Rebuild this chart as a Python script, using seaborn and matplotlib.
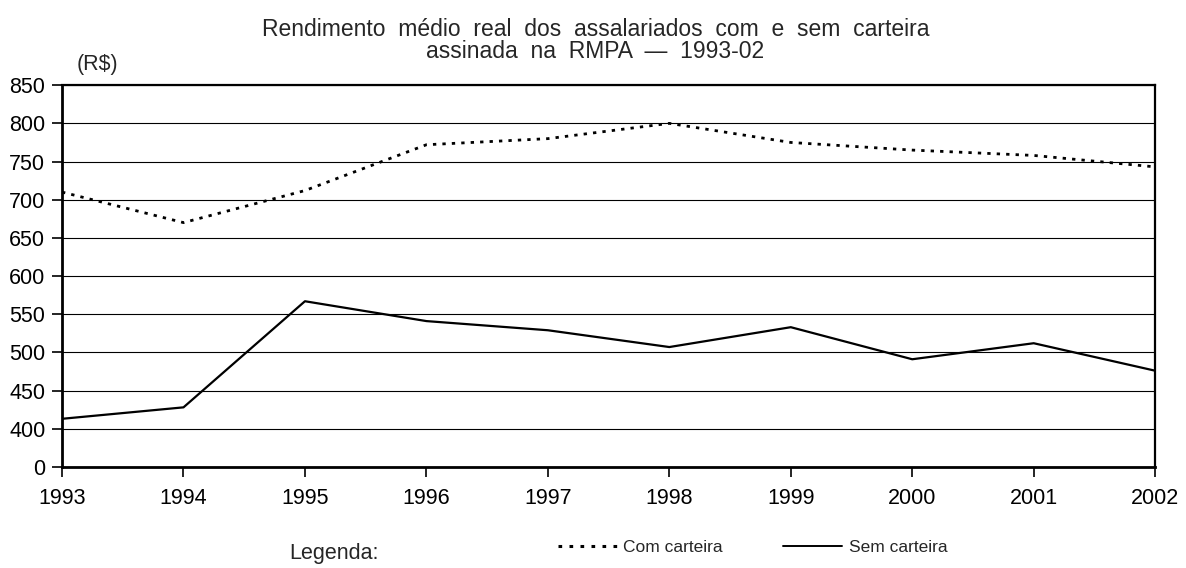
import pandas as pd
import matplotlib.pyplot as plt
import seaborn as sns
from matplotlib.lines import Line2D

years = [1993, 1994, 1995, 1996, 1997, 1998, 1999, 2000, 2001, 2002]
com_carteira = [710, 670, 712, 772, 780, 800, 775, 765, 758, 743]
sem_carteira = [413, 428, 567, 541, 529, 507, 533, 491, 512, 476]

y_ticks = [350, 400, 450, 500, 550, 600, 650, 700, 750, 800, 850]
y_labels = ['0', '400', '450', '500', '550', '600', '650', '700', '750', '800', '850']

sns.set_style('white')
plt.rcParams['font.family'] = ['Liberation Sans', 'DejaVu Sans']

df = pd.DataFrame({'Ano': years, 'Com carteira': com_carteira, 'Sem carteira': sem_carteira})

fig = plt.figure(figsize=(11.86, 5.68), dpi=100)
ax = fig.add_axes([0.0523, 0.178, 0.9217, 0.672])

sns.lineplot(data=df, x='Ano', y='Com carteira', ax=ax, color='black',
             linewidth=2, linestyle=(0, (1.2, 2.2)))
sns.lineplot(data=df, x='Ano', y='Sem carteira', ax=ax, color='black', linewidth=1.6)

ax.set_xlim(1993, 2002)
ax.set_ylim(350, 850)
ax.set_xticks(years)
ax.set_xticklabels([str(y) for y in years])
ax.set_yticks(y_ticks)
ax.set_yticklabels(y_labels)
ax.set_xlabel('')
ax.set_ylabel('')
ax.grid(axis='y', color='black', linewidth=0.8)
ax.tick_params(axis='both', labelsize=15.5, length=7, width=1.2, direction='out',
               bottom=True, left=True, colors='black')
ax.tick_params(axis='x', pad=8)
ax.tick_params(axis='y', pad=5)
for side in ['left', 'bottom']:
    ax.spines[side].set_linewidth(2)
    ax.spines[side].set_color('black')
for side in ['top', 'right']:
    ax.spines[side].set_linewidth(1.6)
    ax.spines[side].set_color('black')

fig.text(0.502, 0.928,
         'Rendimento  médio  real  dos  assalariados  com  e  sem  carteira\nassinada  na  RMPA  —  1993-02',
         ha='center', va='center', fontsize=16.5, linespacing=0.95)
fig.text(0.082, 0.868, '(R$)', ha='center', va='bottom', fontsize=15.5)

fig.text(0.282, 0.026, 'Legenda:', ha='center', va='center', fontsize=15.5)
handles = [Line2D([], [], color='black', linewidth=2.2, linestyle=(0, (1.2, 2.4))),
           Line2D([], [], color='black', linewidth=1.4)]
fig.legend(handles, ['Com carteira', 'Sem carteira'], loc='center', bbox_to_anchor=(0.6345, 0.036),
           ncol=2, frameon=False, fontsize=12.5,
           handlelength=3.4, handletextpad=0.35, columnspacing=3.5)

fig.savefig('out.png', dpi=100)
